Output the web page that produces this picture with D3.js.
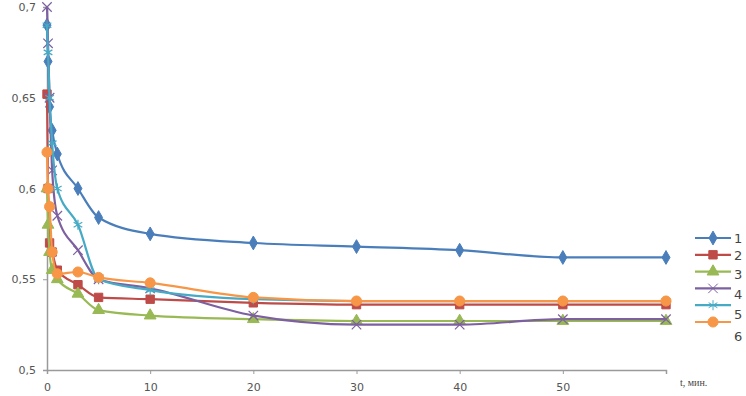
<!DOCTYPE html>
<html>
<head>
<meta charset="utf-8">
<script src="https://cdn.jsdelivr.net/npm/d3@7"></script>
<style>
  body { margin:0; background:#fff; }
  text { font-family:"DejaVu Sans", Verdana, sans-serif; }
</style>
</head>
<body>
<svg></svg>
<script>

// time, min
var times = [0, 0.1, 0.25, 0.5, 1, 3, 5, 10, 20, 30, 40, 50, 60];

var s1 = [0.690, 0.670, 0.645, 0.632, 0.619, 0.600, 0.584, 0.575, 0.570, 0.568, 0.566, 0.562, 0.562];
var s2 = [0.652, 0.600, 0.570, 0.565, 0.555, 0.547, 0.540, 0.539, 0.537, 0.536, 0.536, 0.536, 0.536];
var s3 = [0.600, 0.580, 0.565, 0.555, 0.550, 0.542, 0.533, 0.530, 0.528, 0.527, 0.527, 0.527, 0.527];
var s4 = [0.700, 0.680, 0.650, 0.610, 0.585, 0.566, 0.550, 0.545, 0.530, 0.525, 0.525, 0.528, 0.528];
var s5 = [0.690, 0.675, 0.650, 0.625, 0.600, 0.580, 0.550, 0.544, 0.539, 0.538, 0.538, 0.538, 0.538];
var s6 = [0.620, 0.600, 0.590, 0.565, 0.553, 0.554, 0.551, 0.548, 0.540, 0.538, 0.538, 0.538, 0.538];

var seriesNames = ["1", "2", "3", "4", "5", "6"];
var seriesValues = [s1, s2, s3, s4, s5, s6];
var seriesColors = ["#4a7ebb", "#be4b48", "#98b954", "#7d60a0", "#46aac5", "#f79646"];
var seriesMarkers = ["diamond", "square", "triangle", "x", "star", "circle"];

var xTicks = [0, 10, 20, 30, 40, 50];
var yTicks = [0.5, 0.55, 0.6, 0.65, 0.7];
var xTitle = "t,  мин.";

var screen = {width:746, height:396};
var margins = {top:7, left:47, bottom:26, right:80};

var width = screen.width - margins.left - margins.right;
var height = screen.height - margins.top - margins.bottom;

var xScale = d3.scaleLinear().domain([0, 60]).range([0, width]);
var yScale = d3.scaleLinear().domain([0.5, 0.7]).range([height, 0]);

var svg = d3.select("svg").attr("width", screen.width).attr("height", screen.height);
var plot = svg.append("g").attr("transform", "translate(" + margins.left + "," + margins.top + ")");

var fmt = function(d) { return String(+d.toFixed(2)).replace(".", ","); };

// axes
var xAxis = d3.axisBottom(xScale).tickValues(xTicks).tickSize(4).tickFormat(function(d){ return d; });
var yAxis = d3.axisLeft(yScale).tickValues(yTicks).tickSize(4).tickFormat(fmt);

var gx = plot.append("g").attr("transform", "translate(0," + height + ")").call(xAxis);
var gy = plot.append("g").call(yAxis);

[gx, gy].forEach(function(g) {
  g.select(".domain").attr("stroke", "#9a9a9a").attr("stroke-width", 1.5);
  g.selectAll(".tick line").attr("stroke", "#9a9a9a");
  g.selectAll("text").attr("fill", "#555").style("font-size", "11px");
});
gx.selectAll("text").attr("dy", "1.25em");
gy.selectAll("text").attr("x", -11);

svg.append("text")
  .attr("x", 680).attr("y", 386)
  .attr("fill", "#444").style("font-size", "10px")
  .style("font-family", "'Liberation Serif', serif")
  .text(xTitle);

// markers
var symbolFor = function(kind) {
  var map = {
    diamond: d3.symbolDiamond, square: d3.symbolSquare, triangle: d3.symbolTriangle,
    x: d3.symbolX, star: d3.symbolAsterisk, circle: d3.symbolCircle
  };
  return map[kind];
};
var symbolSize = {diamond:55, square:70, triangle:60, x:60, star:70, circle:80};

var line = d3.line()
  .x(function(d) { return xScale(d[0]); })
  .y(function(d) { return yScale(d[1]); })
  .curve(d3.curveMonotoneX);

seriesValues.forEach(function(vals, i) {
  var pts = times.map(function(t, j) { return [t, vals[j]]; });
  var g = plot.append("g");
  g.append("path").datum(pts)
    .attr("d", line)
    .attr("fill", "none")
    .attr("stroke", seriesColors[i])
    .attr("stroke-width", 2.2);

  var kind = seriesMarkers[i];
  var open = (kind == "x" || kind == "star");
  g.selectAll("path.mk").data(pts).enter().append("path")
    .attr("class", "mk")
    .attr("transform", function(d) { return "translate(" + xScale(d[0]) + "," + yScale(d[1]) + ")"; })
    .attr("d", d3.symbol().type(symbolFor(kind)).size(symbolSize[kind]))
    .attr("fill", open ? "none" : seriesColors[i])
    .attr("stroke", seriesColors[i])
    .attr("stroke-width", open ? 1.2 : 1);
});

// legend
var legend = svg.append("g").attr("transform", "translate(695,238)");
var labelDy = [0, 1, 3, 6, 9, 14];
seriesNames.forEach(function(name, i) {
  var y = i * 16.8;
  var kind = seriesMarkers[i];
  var open = (kind == "x" || kind == "star");
  legend.append("line")
    .attr("x1", 0).attr("x2", 36).attr("y1", y).attr("y2", y)
    .attr("stroke", seriesColors[i]).attr("stroke-width", 2.2);
  legend.append("path")
    .attr("transform", "translate(18," + y + ")")
    .attr("d", d3.symbol().type(symbolFor(kind)).size(symbolSize[kind]))
    .attr("fill", open ? "none" : seriesColors[i])
    .attr("stroke", seriesColors[i]);
  legend.append("text")
    .attr("x", 39).attr("y", y + labelDy[i]).attr("dy", "0.35em")
    .attr("fill", "#444").style("font-size", "13px")
    .text(name);
});

</script>
</body>
</html>
